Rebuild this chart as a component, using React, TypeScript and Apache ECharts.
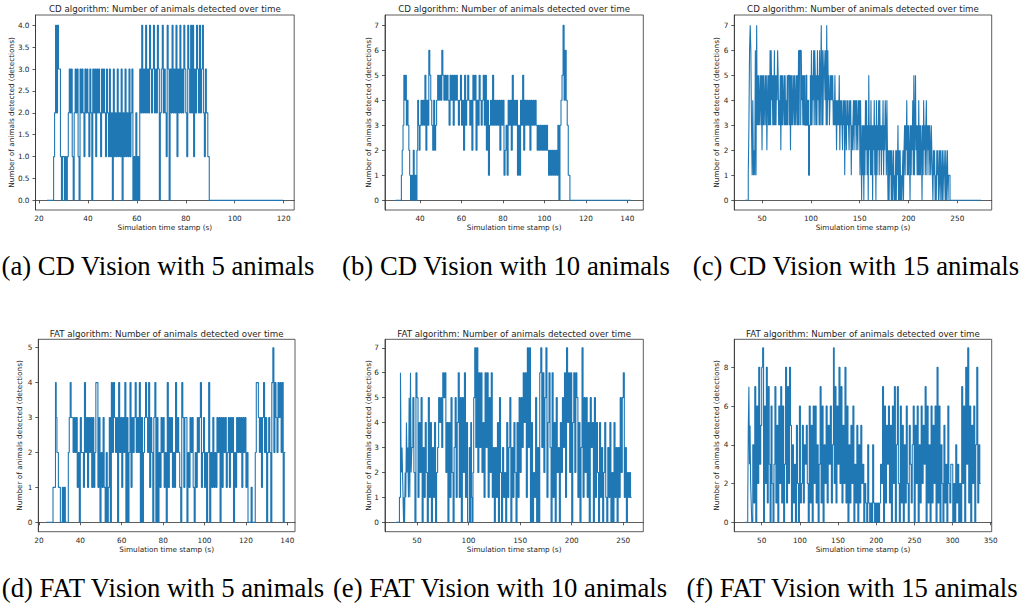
import React, { useEffect, useRef } from "react";
import * as echarts from "echarts";

// ---- Detection counts, one digit per sample. Each string covers the time
// span from its start time up to the next start (or the trace end).

// (a) CD algorithm, 5 animals
const CD5_STARTS = [23.3, 26.0, 32.0, 48.0, 58.0, 61.2, 88.4, 89.6];
const CD5_LEVELS = [
  "0000000",
  "124243310110101",
  "2323102323" + "1032321323" + "2132032313" + "2321323213",
  "2131203121" + "3121302131" + "21312",
  "30102010",
  "3242324232" + "4323423243" + "0234232143" + "0324232413" + "2423243214" + "3242413243" + "24234213",
  "21",
  "0",
];
const CD5_END = 119.8;

// (b) CD algorithm, 10 animals
const CD10_STARTS = [28.2, 31.0, 35.0, 38.5, 40.0, 48.0, 59.0, 72.0, 96.5, 102.0, 107.5, 111.5, 112.3];
const CD10_LEVELS = [
  "000000",
  "1235453432",
  "10102010",
  "2432",
  "3434352436" + "5432423",
  "4545465454" + "5435453545" + "43",
  "4534253454" + "3425452435" + "434535",
  "2413435343" + "4342434123" + "1434253434" + "1314352434" + "342434343",
  "23232323232",
  "12121212130",
  "34574643",
  "1",
  "0",
];
const CD10_END = 141.8;

// (c) CD algorithm, 15 animals
const CD15_STARTS = [32.6, 35.9, 44.5, 94.0, 99.5, 119.6, 152.0, 179.0, 196.0, 225.0, 241.0, 244.0];
const CD15_LEVELS = [
  "000",
  "1367631412161",
  "7353534535" + "2535345352" + "4535363645" + "3536353546" + "5343525353" +
    "4535343535" + "5352535345" + "3534535363" + "6636453535",
  "353413",
  "5363546365" + "3536453635" + "7363565463" + "736453",
  "4545453435" + "3424343524" + "3432434143" + "2434324341" + "3234243424" + "32434142",
  "0313031424" + "1305231413" + "0324130413" + "2414231324" + "13243142",
  "0202120201" + "2010202130" + "2020101202",
  "3132413132" + "0313241513" + "5231314131" + "3203142313" + "4132313213" + "21",
  "0212010212" + "0120210201" + "21020120",
  "10",
  "0",
];
const CD15_END = 274.2;

// (d) FAT algorithm, 5 animals
const FAT5_STARTS = [23.7, 26.8, 28.0, 29.4, 34.2, 36.0, 121.0, 125.0, 131.0];
const FAT5_LEVELS = [
  "000000",
  "111",
  "4322",
  "1100101000",
  "2343",
  "3232312032" + "2142313231" + "3124413021" + "3102013042" + "4323042313" +
    "2403024132" + "3423240302" + "3432413203" + "4030213231" + "2041323121" +
    "4232104313" + "3021323102" + "1323412312" + "0240213121" + "3230313231" +
    "2313230213" + "2323132312",
  "00010002",
  "443231342302",
  "3204524324342402",
];
const FAT5_END = 139.0;

// (e) FAT algorithm, 10 animals
const FAT10_STARTS = [29.6, 33.0, 38.5, 45, 55, 70, 80, 90, 100, 105, 115, 125, 140, 150, 160, 170, 180, 190, 200, 210, 220, 230, 245, 250];
const FAT10_LEVELS = [
  "000",
  "11632321010",
  "2142315162",
  "3520651425",
  "031420514031402",
  "3545365624",
  "0415203514",
  "6150526140",
  "0304102",
  "5737263624",
  "1636152613",
  "031405203120413",
  "5031420415",
  "2536461737",
  "0402150306",
  "7362571463",
  "0614052304",
  "2536174626",
  "0462651403",
  "7152514053",
  "4051420413",
  "024103140204130",
  "31525",
  "61302121",
];
const FAT10_END = 258.0;

// (f) FAT algorithm, 15 animals
const FAT15_STARTS = [28.2, 31.7, 37, 50, 61, 80, 89, 102, 111, 133, 144, 146, 163, 185, 207, 229, 255, 281, 299, 312];
const FAT15_LEVELS = [
  "00",
  "1573521",
  "0417062835",
  "890628173",
  "062037150627160",
  "3817285",
  "0413052061",
  "2514352",
  "06150626140371604",
  "26153614",
  "92",
  "7163827152816",
  "04152603150415230",
  "21041010410101013",
  "27061536150627047",
  "20615041620531460526",
  "04162537061406152608",
  "16042051306213",
  "3020413020",
  "7260839160526048142",
];
const FAT15_END = 337.0;

// ---- Tick values
const X_TICKS_A = [20, 40, 60, 80, 100, 120];
const Y_TICKS_A = [0, 0.5, 1, 1.5, 2, 2.5, 3, 3.5, 4];
const X_TICKS_B = [40, 60, 80, 100, 120, 140];
const Y_TICKS_B = [0, 1, 2, 3, 4, 5, 6, 7];
const X_TICKS_C = [50, 100, 150, 200, 250];
const Y_TICKS_C = [0, 1, 2, 3, 4, 5, 6, 7];
const X_TICKS_D = [20, 40, 60, 80, 100, 120, 140];
const Y_TICKS_D = [0, 1, 2, 3, 4, 5];
const X_TICKS_E = [50, 100, 150, 200, 250];
const Y_TICKS_E = [0, 1, 2, 3, 4, 5, 6, 7];
const X_TICKS_F = [50, 100, 150, 200, 250, 300, 350];
const Y_TICKS_F = [0, 2, 4, 6, 8];

// ---- Texts
const CD_TITLE = "CD algorithm: Number of animals detected over time";
const FAT_TITLE = "FAT algorithm: Number of animals detected over time";
const X_NAME = "Simulation time stamp (s)";
const Y_NAME = "Number of animals detected (detections)";
const CAPTIONS = [
  "(a) CD Vision with 5 animals",
  "(b) CD Vision with 10 animals",
  "(c) CD Vision with 15 animals",
  "(d) FAT Vision with 5 animals",
  "(e) FAT Vision with 10 animals",
  "(f) FAT Vision with 15 animals",
];

function buildTrace(starts: number[], levels: string[], end: number): number[][] {
  const pts: number[][] = [];
  starts.forEach((s, k) => {
    const next = k + 1 < starts.length ? starts[k + 1] : end;
    const digits = levels[k];
    const step = (next - s) / digits.length;
    for (let i = 0; i < digits.length; i++) {
      pts.push([s + i * step, Number(digits[i])]);
    }
  });
  pts.push([end, pts[pts.length - 1][1]]);
  return pts;
}

const PANELS = [
  { title: CD_TITLE, data: buildTrace(CD5_STARTS, CD5_LEVELS, CD5_END), xTicks: X_TICKS_A, yTicks: Y_TICKS_A, yFixed: 1,
    left: 35.5, top: 15, width: 258.7, height: 195, xMin: 18.6, xMax: 124.3, yMin: -0.22, yMax: 4.235, yNameX: 11.7, capX: 158, capY: 266 },
  { title: CD_TITLE, data: buildTrace(CD10_STARTS, CD10_LEVELS, CD10_END), xTicks: X_TICKS_B, yTicks: Y_TICKS_B, yFixed: 0,
    left: 385, top: 15, width: 258.3, height: 195, xMin: 23.1, xMax: 147.7, yMin: -0.39, yMax: 7.41, yNameX: 368, capX: 506, capY: 266 },
  { title: CD_TITLE, data: buildTrace(CD15_STARTS, CD15_LEVELS, CD15_END), xTicks: X_TICKS_C, yTicks: Y_TICKS_C, yFixed: 0,
    left: 734.3, top: 15, width: 257.4, height: 195, xMin: 21.6, xMax: 285.2, yMin: -0.39, yMax: 7.41, yNameX: 716.7, capX: 856, capY: 266 },
  { title: FAT_TITLE, data: buildTrace(FAT5_STARTS, FAT5_LEVELS, FAT5_END), xTicks: X_TICKS_D, yTicks: Y_TICKS_D, yFixed: 0,
    left: 38.3, top: 339.3, width: 256.7, height: 192.4, xMin: 19.7, xMax: 143.7, yMin: -0.27, yMax: 5.24, yNameX: 19, capX: 163, capY: 588 },
  { title: FAT_TITLE, data: buildTrace(FAT10_STARTS, FAT10_LEVELS, FAT10_END), xTicks: X_TICKS_E, yTicks: Y_TICKS_E, yFixed: 0,
    left: 385, top: 339.3, width: 258.3, height: 192.4, xMin: 19.0, xMax: 269.4, yMin: -0.377, yMax: 7.34, yNameX: 368, capX: 500, capY: 588 },
  { title: FAT_TITLE, data: buildTrace(FAT15_STARTS, FAT15_LEVELS, FAT15_END), xTicks: X_TICKS_F, yTicks: Y_TICKS_F, yFixed: 0,
    left: 734.3, top: 339.3, width: 257.4, height: 192.4, xMin: 14.1, xMax: 351.3, yMin: -0.485, yMax: 9.445, yNameX: 716.7, capX: 852, capY: 588 },
];

const FONT = "'DejaVu Sans', sans-serif";
const INK = "#262626";
const FRAME = "#333333";
const LINE = "#1f77b4";

function buildOption() {
  const grid = PANELS.map((p) => ({
    left: p.left,
    top: p.top,
    width: p.width,
    height: p.height,
    show: true,
    borderColor: FRAME,
    borderWidth: 0.8,
    backgroundColor: "transparent",
  }));
  const axisCommon = {
    splitLine: { show: false },
    axisLine: { show: true, lineStyle: { color: FRAME, width: 0.8 } },
  };
  const xAxis = PANELS.map((p, i) => ({
    type: "value",
    gridIndex: i,
    min: p.xMin,
    max: p.xMax,
    ...axisCommon,
    axisTick: { show: true, length: 3, inside: false, customValues: p.xTicks, lineStyle: { color: FRAME, width: 0.8 } },
    axisLabel: {
      customValues: p.xTicks,
      fontFamily: FONT,
      fontSize: 7.3,
      color: INK,
      margin: 5,
      formatter: (v: number) => String(v),
    },
  }));
  const yAxis = PANELS.map((p, i) => ({
    type: "value",
    gridIndex: i,
    min: p.yMin,
    max: p.yMax,
    ...axisCommon,
    axisTick: { show: true, length: 3, inside: false, customValues: p.yTicks, lineStyle: { color: FRAME, width: 0.8 } },
    axisLabel: {
      customValues: p.yTicks,
      fontFamily: FONT,
      fontSize: 7.3,
      color: INK,
      margin: 6,
      formatter: (v: number) => v.toFixed(p.yFixed),
    },
  }));
  const series = PANELS.map((p, i) => ({
    type: "line",
    xAxisIndex: i,
    yAxisIndex: i,
    data: p.data,
    step: "end",
    showSymbol: false,
    symbol: "none",
    silent: true,
    clip: true,
    lineStyle: { color: LINE, width: 1.1 },
    itemStyle: { color: LINE },
  }));

  const elements: any[] = [];
  PANELS.forEach((p) => {
    const cx = p.left + p.width / 2;
    const cy = p.top + p.height / 2;
    elements.push({
      type: "text",
      x: cx,
      y: p.top - 5.7,
      silent: true,
      style: { text: p.title, fontFamily: FONT, fontSize: 8.7, fill: INK, align: "center", verticalAlign: "middle" },
    });
    elements.push({
      type: "text",
      x: cx,
      y: p.top + p.height + 17.8,
      silent: true,
      style: { text: X_NAME, fontFamily: FONT, fontSize: 7.3, fill: INK, align: "center", verticalAlign: "middle" },
    });
    elements.push({
      type: "text",
      x: p.yNameX,
      y: cy,
      rotation: Math.PI / 2,
      silent: true,
      style: { text: Y_NAME, fontFamily: FONT, fontSize: 7.3, fill: INK, align: "center", verticalAlign: "middle" },
    });
  });
  PANELS.forEach((p, i) => {
    elements.push({
      type: "text",
      x: p.capX,
      y: p.capY,
      silent: true,
      style: {
        text: CAPTIONS[i],
        fontFamily: "'Liberation Serif', 'Times New Roman', serif",
        fontSize: 26.7,
        fill: "#000000",
        align: "center",
        verticalAlign: "middle",
      },
    });
  });

  return {
    animation: false,
    backgroundColor: "#ffffff",
    grid,
    xAxis,
    yAxis,
    series,
    graphic: { elements },
  };
}

export default function App() {
  const ref = useRef<HTMLDivElement>(null);

  useEffect(() => {
    document.body.style.margin = "0";
    if (!ref.current) return;
    const chart = echarts.init(ref.current, undefined, { renderer: "svg" });
    chart.setOption(buildOption() as any);
    return () => chart.dispose();
  }, []);

  return (
    <div
      ref={ref}
      style={{ position: "absolute", left: 0, top: 0, width: 1025, height: 608, background: "#fff" }}
    />
  );
}
